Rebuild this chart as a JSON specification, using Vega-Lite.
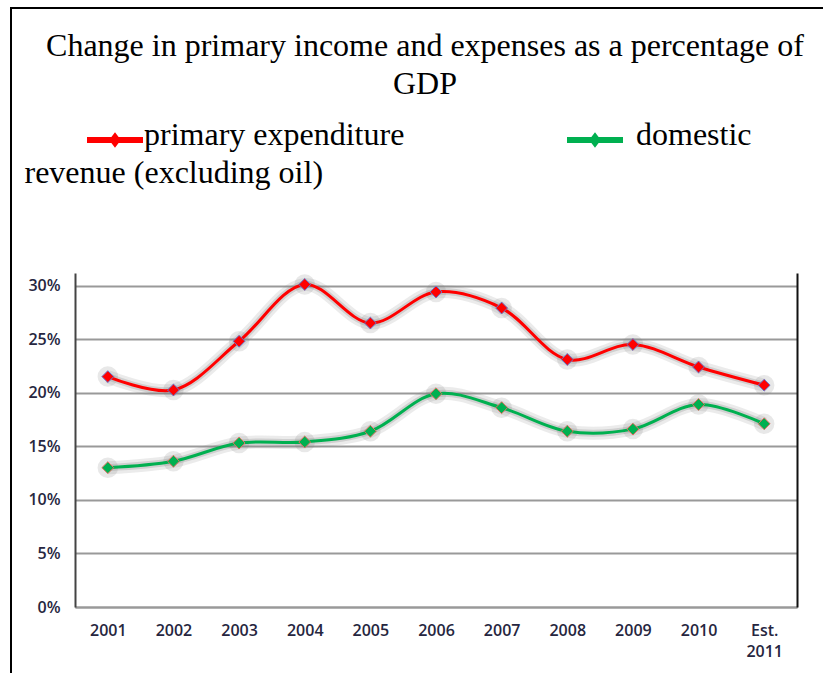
{
  "$schema": "https://vega.github.io/schema/vega-lite/v6.json",
  "autosize": "none",
  "padding": {"left": 11, "top": 8, "right": -2, "bottom": -2},
  "width": 814,
  "height": 667,
  "background": "white",
  "title": {
    "text": ["Change in primary income and expenses as a percentage of", "GDP"],
    "font": "Liberation Serif",
    "fontSize": 32,
    "fontWeight": "normal",
    "color": "black",
    "lineHeight": 38,
    "anchor": "middle",
    "frame": "group",
    "baseline": "alphabetic",
    "offset": -118,
    "dx": 7
  },
  "data": {
    "values": [
      {"year": "2001", "series": "primary expenditure", "value": 21.5},
      {"year": "2002", "series": "primary expenditure", "value": 20.25},
      {"year": "2003", "series": "primary expenditure", "value": 24.8},
      {"year": "2004", "series": "primary expenditure", "value": 30.1},
      {"year": "2005", "series": "primary expenditure", "value": 26.5},
      {"year": "2006", "series": "primary expenditure", "value": 29.4},
      {"year": "2007", "series": "primary expenditure", "value": 27.9},
      {"year": "2008", "series": "primary expenditure", "value": 23.1},
      {"year": "2009", "series": "primary expenditure", "value": 24.5},
      {"year": "2010", "series": "primary expenditure", "value": 22.4},
      {"year": "Est. 2011", "series": "primary expenditure", "value": 20.7},
      {"year": "2001", "series": "domestic revenue (excluding oil)", "value": 13.0},
      {"year": "2002", "series": "domestic revenue (excluding oil)", "value": 13.6},
      {"year": "2003", "series": "domestic revenue (excluding oil)", "value": 15.3},
      {"year": "2004", "series": "domestic revenue (excluding oil)", "value": 15.4},
      {"year": "2005", "series": "domestic revenue (excluding oil)", "value": 16.4},
      {"year": "2006", "series": "domestic revenue (excluding oil)", "value": 19.9},
      {"year": "2007", "series": "domestic revenue (excluding oil)", "value": 18.6},
      {"year": "2008", "series": "domestic revenue (excluding oil)", "value": 16.4},
      {"year": "2009", "series": "domestic revenue (excluding oil)", "value": 16.6},
      {"year": "2010", "series": "domestic revenue (excluding oil)", "value": 18.9},
      {"year": "Est. 2011", "series": "domestic revenue (excluding oil)", "value": 17.1}
    ]
  },
  "encoding": {
    "x": {
      "field": "year",
      "type": "nominal",
      "sort": null,
      "scale": {"type": "point", "padding": 0.5, "range": [64, 786]},
      "axis": {
        "title": null,
        "orient": "bottom",
        "offset": -68,
        "labelAngle": 0,
        "labelExpr": "split(datum.label, ' ')",
        "labelLineHeight": 21,
        "labelFont": "Open Sans",
        "labelFontSize": 16,
        "labelFontWeight": 600,
        "labelColor": "#262640",
        "labelPadding": 15,
        "ticks": false,
        "domainColor": "#999999",
        "domainWidth": 2,
        "grid": false
      }
    }
  },
  "layer": [
    {
      "mark": {"type": "line", "interpolate": "catmull-rom", "strokeWidth": 13, "color": "#808080", "opacity": 0.16},
      "encoding": {
        "y": {"field": "value", "type": "quantitative", "scale": {"domain": [0, 31.17], "range": [599, 265], "nice": false, "zero": true}, "axis": null},
        "detail": {"field": "series"}
      }
    },
    {
      "mark": {"type": "line", "interpolate": "catmull-rom", "strokeWidth": 7, "color": "#808080", "opacity": 0.25},
      "encoding": {
        "y": {"field": "value", "type": "quantitative", "axis": null},
        "detail": {"field": "series"}
      }
    },
    {
      "mark": {"type": "point", "shape": "circle", "filled": true, "size": 420, "color": "#808080", "opacity": 0.18},
      "encoding": {
        "y": {"field": "value", "type": "quantitative", "axis": null},
        "detail": {"field": "series"}
      }
    },
    {
      "mark": {"type": "line", "interpolate": "catmull-rom", "strokeWidth": 3},
      "encoding": {
        "y": {
          "field": "value",
          "type": "quantitative",
          "axis": {
            "orient": "left",
            "offset": -64,
            "values": [0, 5, 10, 15, 20, 25, 30],
            "labelExpr": "datum.value + '%'",
            "labelFont": "Open Sans",
            "labelFontSize": 16,
            "labelFontWeight": 600,
            "labelColor": "#262640",
            "labelPadding": 15,
            "ticks": false,
            "domainColor": "#444444",
            "domainWidth": 2,
            "grid": true,
            "gridColor": "#999999",
            "gridWidth": 2,
            "title": "revenue (excluding oil)",
            "titleX": -51,
            "titleY": 174,
            "titleAngle": 0,
            "titleAlign": "left",
            "titleBaseline": "alphabetic",
            "titleFont": "Liberation Serif",
            "titleFontSize": 32,
            "titleFontWeight": "normal",
            "titleColor": "black"
          }
        },
        "color": {
          "field": "series",
          "type": "nominal",
          "scale": {"domain": ["primary expenditure", "domestic revenue (excluding oil)"], "range": ["#ff0000", "#00b050"]},
          "legend": {
            "title": null,
            "orient": "none",
            "direction": "horizontal",
            "legendX": 76,
            "legendY": 104,
            "padding": 0,
            "columnPadding": 162,
            "labelExpr": "datum.label == 'domestic revenue (excluding oil)' ? 'domestic' : datum.label",
            "labelFont": "Liberation Serif",
            "labelFontSize": 32,
            "labelColor": "black",
            "labelLimit": 1000,
            "labelOffset": 1,
            "symbolType": "M-1,-0.11L1,-0.11L1,0.11L-1,0.11Z M0,-0.28L0.21,0L0,0.28L-0.21,0Z",
            "symbolSize": 3136,
            "symbolStrokeWidth": 0,
            "symbolOpacity": 1,
            "encode": {
              "labels": {
                "update": {
                  "dy": {"value": -5},
                  "dx": {"signal": "datum.value == 'domestic revenue (excluding oil)' ? 12 : 0"}
                }
              }
            }
          }
        }
      }
    },
    {
      "mark": {"type": "point", "shape": "diamond", "filled": true, "size": 140, "strokeWidth": 1, "opacity": 1},
      "encoding": {
        "y": {
          "field": "value",
          "type": "quantitative",
          "axis": {
            "orient": "right",
            "offset": -28,
            "labels": false,
            "ticks": false,
            "grid": false,
            "title": null,
            "domainColor": "#111111",
            "domainWidth": 2
          }
        },
        "color": {"field": "series", "type": "nominal"},
        "stroke": {
          "field": "series",
          "type": "nominal",
          "scale": {"domain": ["primary expenditure", "domestic revenue (excluding oil)"], "range": ["#6677cc", "#e07060"]},
          "legend": null
        }
      }
    }
  ],
  "resolve": {"axis": {"y": "independent"}},
  "config": {
    "view": {"stroke": "black", "strokeWidth": 2}
  }
}
